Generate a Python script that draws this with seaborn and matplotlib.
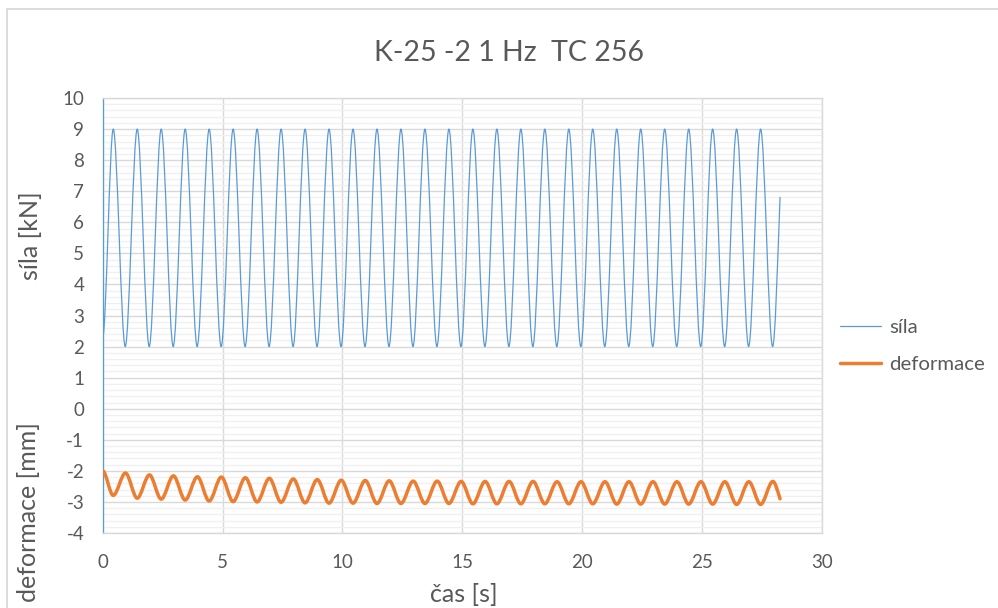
import numpy as np
import matplotlib
matplotlib.use("Agg")
import matplotlib.pyplot as plt
import seaborn as sns
from matplotlib.path import Path
from matplotlib.patches import PathPatch, Rectangle
from matplotlib.lines import Line2D
from matplotlib.ticker import MultipleLocator

# ---------------- data ----------------
title = "K-25 -2 1 Hz  TC 256"
series_names = ["síla", "deformace"]
x_label = "čas [s]"
y_label_top = "síla [kN]"
y_label_bottom = "deformace [mm]"
x_ticks = [0, 5, 10, 15, 20, 25, 30]
y_ticks = [-4, -3, -2, -1, 0, 1, 2, 3, 4, 5, 6, 7, 8, 9, 10]

# síla [kN]: start point, alternating peaks / troughs, end point
sila_t = [0.00,
          0.44, 0.94, 1.44, 1.94, 2.44, 2.94, 3.44, 3.94, 4.44, 4.94,
          5.44, 5.94, 6.44, 6.94, 7.44, 7.94, 8.44, 8.94, 9.44, 9.94,
          10.44, 10.94, 11.44, 11.94, 12.44, 12.94, 13.44, 13.94, 14.44, 14.94,
          15.44, 15.94, 16.44, 16.94, 17.44, 17.94, 18.44, 18.94, 19.44, 19.94,
          20.44, 20.94, 21.44, 21.94, 22.44, 22.94, 23.44, 23.94, 24.44, 24.94,
          25.44, 25.94, 26.44, 26.94, 27.44, 27.94,
          28.25]
sila_v = [2.30,
          9.0, 2.0, 9.0, 2.0, 9.0, 2.0, 9.0, 2.0, 9.0, 2.0,
          9.0, 2.0, 9.0, 2.0, 9.0, 2.0, 9.0, 2.0, 9.0, 2.0,
          9.0, 2.0, 9.0, 2.0, 9.0, 2.0, 9.0, 2.0, 9.0, 2.0,
          9.0, 2.0, 9.0, 2.0, 9.0, 2.0, 9.0, 2.0, 9.0, 2.0,
          9.0, 2.0, 9.0, 2.0, 9.0, 2.0, 9.0, 2.0, 9.0, 2.0,
          9.0, 2.0, 9.0, 2.0, 9.0, 2.0,
          6.80]

# deformace [mm]: start point, alternating troughs / peaks, end point
deform_t = [0.00,
            0.44, 0.95, 1.44, 1.95, 2.44, 2.95, 3.44, 3.95, 4.44, 4.95,
            5.44, 5.95, 6.44, 6.95, 7.44, 7.95, 8.44, 8.95, 9.44, 9.95,
            10.44, 10.95, 11.44, 11.95, 12.44, 12.95, 13.44, 13.95, 14.44, 14.95,
            15.44, 15.95, 16.44, 16.95, 17.44, 17.95, 18.44, 18.95, 19.44, 19.95,
            20.44, 20.95, 21.44, 21.95, 22.44, 22.95, 23.44, 23.95, 24.44, 24.95,
            25.44, 25.95, 26.44, 26.95, 27.44, 27.95,
            28.25]
deform_v = [-2.00,
            -2.79, -2.07, -2.88, -2.13, -2.91, -2.16, -2.94, -2.19, -2.97, -2.20,
            -2.99, -2.22, -3.00, -2.24, -3.01, -2.26, -3.03, -2.28, -3.04, -2.30,
            -3.04, -2.31, -3.05, -2.32, -3.05, -2.33, -3.05, -2.33, -3.05, -2.34,
            -3.06, -2.34, -3.06, -2.34, -3.06, -2.34, -3.06, -2.35, -3.06, -2.35,
            -3.06, -2.35, -3.07, -2.35, -3.07, -2.35, -3.07, -2.35, -3.07, -2.35,
            -3.07, -2.35, -3.08, -2.35, -3.08, -2.34,
            -2.90]

# ---------------- style ----------------
BLUE = "#5B9BD5"
ORANGE = "#ED7D31"
TEXT = "#595959"
GRID = "#d9d9d9"
MINOR = "#f0f0f0"

sns.set_theme(style="white")
plt.rcParams['font.family'] = ['Lato', 'DejaVu Sans']
plt.rcParams['axes.unicode_minus'] = False


def smooth_line(t, v, **kw):
    """Excel-like 'smoothed line': cubic Bezier segments through the data
    points (shape preserving, flat tangents at local extrema)."""
    t = np.asarray(t, float)
    v = np.asarray(v, float)
    h = np.diff(t)
    s = np.diff(v) / h
    d = np.zeros_like(v)
    for k in range(1, len(v) - 1):
        if s[k - 1] * s[k] > 0:
            w1 = 2 * h[k] + h[k - 1]
            w2 = h[k] + 2 * h[k - 1]
            d[k] = (w1 + w2) / (w1 / s[k - 1] + w2 / s[k])
    d[0] = 0.0
    d[-1] = 1.3 * s[-1]
    verts = [(t[0], v[0])]
    codes = [Path.MOVETO]
    for k in range(len(t) - 1):
        verts += [(t[k] + h[k] / 3, v[k] + d[k] * h[k] / 3),
                  (t[k + 1] - h[k] / 3, v[k + 1] - d[k + 1] * h[k] / 3),
                  (t[k + 1], v[k + 1])]
        codes += [Path.CURVE4] * 3
    return PathPatch(Path(verts, codes), fill=False, **kw)


W, H = 998, 608
fig = plt.figure(figsize=(W / 100, H / 100), dpi=100)
fig.patch.set_facecolor("white")

L, R, T, B = 102.7, 822.0, 98.0, 533.0
ax = fig.add_axes([L / W, 1 - B / H, (R - L) / W, (B - T) / H])
ax.set_facecolor("white")

ax.set_xlim(0, 30)
ax.set_ylim(-4, 10)
ax.set_xticks(x_ticks)
ax.set_yticks(y_ticks)
ax.yaxis.set_minor_locator(MultipleLocator(0.2))

ax.grid(which="minor", axis="y", color=MINOR, lw=1.0)
ax.grid(which="major", axis="y", color=GRID, lw=1.0)
ax.grid(which="major", axis="x", color=GRID, lw=1.0)
ax.set_axisbelow(True)

for name in ["top", "right", "bottom"]:
    ax.spines[name].set_color(GRID)
    ax.spines[name].set_linewidth(1.0)
ax.spines["left"].set_color(BLUE)
ax.spines["left"].set_linewidth(0.9)

ax.tick_params(axis="y", which="major", direction="out", length=4.3, width=0.8,
               color=BLUE, labelcolor=TEXT, labelsize=13.5, pad=9)
ax.tick_params(axis="y", which="minor", length=0)
ax.tick_params(axis="x", which="major", length=0, labelcolor=TEXT,
               labelsize=13.5, pad=15)

ax.add_patch(smooth_line(sila_t, sila_v, edgecolor=BLUE, lw=0.9,
                         transform=ax.transData, zorder=3,
                         joinstyle="round", capstyle="round"))
ax.add_patch(smooth_line(deform_t, deform_v, edgecolor=ORANGE, lw=2.5,
                         transform=ax.transData, zorder=4,
                         joinstyle="round", capstyle="round"))

# title & axis labels
fig.text(509 / W, 1 - 53 / H, title, ha="center", va="center",
         fontsize=20.5, color=TEXT)
fig.text(464 / W, 1 - 594 / H, x_label, ha="center", va="center",
         fontsize=18, color=TEXT)
fig.text(30 / W, 1 - 236 / H, y_label_top, ha="center", va="center",
         rotation=90, fontsize=18, color=TEXT)
fig.text(29 / W, 1 - 512 / H, y_label_bottom, ha="center", va="center",
         rotation=90, fontsize=18, color=TEXT)

# legend
handles = [Line2D([], [], color=BLUE, lw=0.9),
           Line2D([], [], color=ORANGE, lw=2.5)]
leg = fig.legend(handles, series_names, loc="center left",
                 bbox_to_anchor=(840 / W, 1 - 346 / H), frameon=False,
                 fontsize=14.7, handlelength=2.0, handletextpad=0.4,
                 labelspacing=1.0, borderaxespad=0, borderpad=0)
for txt in leg.get_texts():
    txt.set_color(TEXT)

# outer chart border (only top/left visible in the crop)
fig.add_artist(Rectangle((7 / W, -0.5), 2.0, 0.5 + 1 - 9 / H,
                         transform=fig.transFigure, fill=False,
                         edgecolor=GRID, lw=1.3))

fig.savefig("out.png", dpi=100)
